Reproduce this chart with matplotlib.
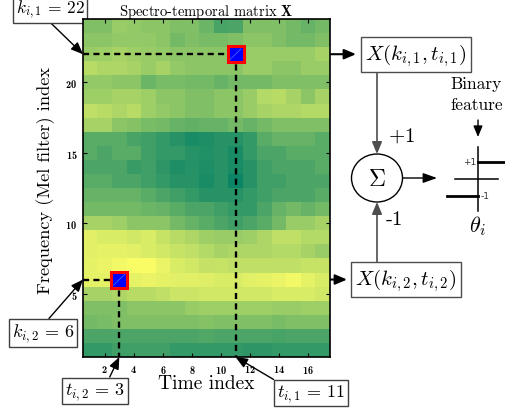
import numpy as np
import matplotlib
matplotlib.use("Agg")
import matplotlib.pyplot as plt
from matplotlib.patches import ConnectionPatch, Ellipse
from matplotlib.transforms import blended_transform_factory

plt.rcParams['mathtext.fontset'] = 'cm'
plt.rcParams['font.family'] = ['cmr10', 'DejaVu Serif']
plt.rcParams['axes.unicode_minus'] = False
plt.rcParams['axes.formatter.use_mathtext'] = True

# ---------------- data ----------------
n_time = 17
n_freq = 24
time_ticks = [2, 4, 6, 8, 10, 12, 14, 16]
freq_ticks = [5, 10, 15, 20]

# rows listed from top (index 24) to bottom (index 1), columns time 1..17
rows_top_to_bottom = [
    [0.50, 0.50, 0.60, 0.58, 0.55, 0.55, 0.50, 0.50, 0.42, 0.28, 0.30, 0.50, 0.50, 0.50, 0.45, 0.40, 0.45],  # 24
    [0.55, 0.55, 0.58, 0.58, 0.58, 0.55, 0.45, 0.50, 0.47, 0.48, 0.50, 0.55, 0.55, 0.50, 0.45, 0.45, 0.50],  # 23
    [0.60, 0.62, 0.65, 0.62, 0.60, 0.58, 0.55, 0.55, 0.55, 0.55, 0.55, 0.60, 0.60, 0.60, 0.60, 0.60, 0.65],  # 22
    [0.72, 0.68, 0.68, 0.65, 0.60, 0.65, 0.58, 0.55, 0.55, 0.55, 0.55, 0.60, 0.60, 0.55, 0.55, 0.60, 0.60],  # 21
    [0.58, 0.58, 0.55, 0.55, 0.42, 0.48, 0.48, 0.45, 0.45, 0.40, 0.45, 0.45, 0.45, 0.50, 0.50, 0.50, 0.50],  # 20
    [0.62, 0.62, 0.65, 0.65, 0.62, 0.55, 0.55, 0.50, 0.50, 0.55, 0.55, 0.60, 0.70, 0.72, 0.65, 0.55, 0.65],  # 19
    [0.75, 0.72, 0.68, 0.72, 0.62, 0.58, 0.55, 0.50, 0.50, 0.55, 0.55, 0.60, 0.65, 0.68, 0.68, 0.70, 0.70],  # 18
    [0.65, 0.65, 0.55, 0.52, 0.48, 0.45, 0.40, 0.38, 0.40, 0.40, 0.45, 0.40, 0.45, 0.50, 0.50, 0.50, 0.50],  # 17
    [0.35, 0.35, 0.35, 0.28, 0.25, 0.20, 0.15, 0.10, 0.12, 0.15, 0.15, 0.20, 0.35, 0.40, 0.40, 0.40, 0.35],  # 16
    [0.35, 0.30, 0.35, 0.35, 0.25, 0.20, 0.20, 0.15, 0.13, 0.15, 0.10, 0.20, 0.30, 0.30, 0.35, 0.35, 0.35],  # 15
    [0.30, 0.30, 0.30, 0.22, 0.25, 0.18, 0.12, 0.15, 0.12, 0.15, 0.10, 0.15, 0.25, 0.30, 0.30, 0.30, 0.35],  # 14
    [0.35, 0.35, 0.30, 0.30, 0.25, 0.20, 0.15, 0.15, 0.10, 0.15, 0.05, 0.15, 0.25, 0.25, 0.30, 0.30, 0.30],  # 13
    [0.40, 0.40, 0.40, 0.40, 0.35, 0.30, 0.25, 0.20, 0.15, 0.15, 0.15, 0.20, 0.25, 0.30, 0.30, 0.30, 0.35],  # 12
    [0.45, 0.45, 0.45, 0.45, 0.42, 0.40, 0.35, 0.30, 0.30, 0.25, 0.20, 0.20, 0.30, 0.40, 0.45, 0.40, 0.45],  # 11
    [0.65, 0.65, 0.62, 0.55, 0.55, 0.55, 0.45, 0.40, 0.35, 0.30, 0.25, 0.30, 0.35, 0.45, 0.60, 0.60, 0.65],  # 10
    [0.88, 0.85, 0.85, 0.82, 0.85, 0.78, 0.72, 0.68, 0.62, 0.60, 0.60, 0.62, 0.68, 0.75, 0.75, 0.70, 0.70],  # 9
    [0.88, 0.90, 0.90, 0.88, 0.85, 0.82, 0.78, 0.75, 0.70, 0.65, 0.68, 0.68, 0.68, 0.70, 0.70, 0.65, 0.60],  # 8
    [0.90, 0.92, 0.95, 0.98, 0.98, 0.92, 0.85, 0.82, 0.77, 0.78, 0.75, 0.75, 0.75, 0.75, 0.75, 0.78, 0.78],  # 7
    [0.90, 0.90, 0.90, 0.90, 0.92, 0.90, 0.88, 0.88, 0.87, 0.85, 0.85, 0.88, 0.90, 0.92, 0.95, 0.90, 0.85],  # 6
    [0.65, 0.65, 0.68, 0.72, 0.72, 0.75, 0.80, 0.80, 0.82, 0.82, 0.82, 0.82, 0.82, 0.85, 0.85, 0.85, 0.82],  # 5
    [0.50, 0.50, 0.50, 0.55, 0.55, 0.55, 0.55, 0.60, 0.62, 0.62, 0.62, 0.62, 0.62, 0.60, 0.60, 0.62, 0.62],  # 4
    [0.45, 0.48, 0.50, 0.50, 0.50, 0.50, 0.50, 0.50, 0.52, 0.50, 0.50, 0.50, 0.50, 0.48, 0.50, 0.50, 0.50],  # 3
    [0.30, 0.30, 0.30, 0.30, 0.30, 0.30, 0.30, 0.30, 0.32, 0.30, 0.30, 0.30, 0.30, 0.28, 0.30, 0.30, 0.30],  # 2
    [0.20, 0.20, 0.25, 0.25, 0.25, 0.25, 0.20, 0.20, 0.20, 0.20, 0.20, 0.18, 0.18, 0.20, 0.20, 0.20, 0.20],  # 1
]
matrix = np.array(rows_top_to_bottom[::-1])  # row 0 -> frequency index 1

# selected points
k1, t1 = 22, 11
k2, t2 = 6, 3

# ---------------- figure ----------------
W, H = 506, 414
fig = plt.figure(figsize=(W / 100, H / 100), dpi=100)
ax = fig.add_axes([83 / W, (H - 358) / H, (330 - 83) / W, (358 - 20) / H])
ax.imshow(matrix, origin='lower', cmap='summer', vmin=0, vmax=1,
          extent=[0.5, n_time + 0.5, 0.5, n_freq + 0.5], aspect='auto',
          interpolation='nearest')
ax.set_xlim(0.5, n_time + 0.5)
ax.set_ylim(0.5, n_freq + 0.5)
ax.set_xticks(time_ticks)
ax.set_yticks(freq_ticks)
ax.tick_params(direction='in', top=True, right=True, length=3, width=0.8,
               labelsize=7.5, pad=4)
for lab in ax.get_xticklabels() + ax.get_yticklabels():
    lab.set_fontfamily('cmb10')
for s in ax.spines.values():
    s.set_linewidth(1.2)
ax.set_title(r'Spectro-temporal matrix $\mathbf{X}$', fontsize=10.5, pad=3)
ax.set_xlabel('Time index', fontsize=14, labelpad=0)
ax.set_ylabel('Frequency (Mel filter) index', fontsize=13.2)
ax.yaxis.set_label_coords(-0.115, 0.525)

dash = (0, (2.6, 1.8))
for (k, t) in [(k1, t1), (k2, t2)]:
    ax.plot([0.5, t], [k, k], color='black', lw=1.7, linestyle=dash, zorder=3)
    ax.plot([t, t], [k, 0.5], color='black', lw=1.7, linestyle=dash, zorder=3)

# overlay in pixel coords (origin top-left)
ov = fig.add_axes([0, 0, 1, 1])
ov.set_xlim(0, W)
ov.set_ylim(H, 0)
ov.axis('off')
ov.set_zorder(5)
ov.patch.set_alpha(0)

mixed = blended_transform_factory(ov.transData, ax.transData)

# solid arrows from markers to boxes
box1_left, box2_left = 356, 347
for (k, t, xl) in [(k1, t1, box1_left), (k2, t2, box2_left)]:
    cp = ConnectionPatch(xyA=(t, k), coordsA=ax.transData, xyB=(xl, k), coordsB=mixed,
                         arrowstyle='-|>,head_length=0.7,head_width=0.3', color='black',
                         lw=1.5, mutation_scale=10, shrinkA=0, shrinkB=0, zorder=4)
    fig.add_artist(cp)

# markers (drawn above lines)
for (k, t) in [(k1, t1), (k2, t2)]:
    ax.plot([t], [k], marker='s', ms=11.5, mfc='#0000ff', mec='#ff0000', mew=2.2,
            zorder=6, clip_on=False)
    ax.plot([t - 0.38, t + 0.38], [k - 0.38, k + 0.38], color='#4a78ff', lw=0.5,
            zorder=7, clip_on=False)
ax.set_zorder(6)

bbox_w = dict(boxstyle='square,pad=0.15', fc='white', ec='0.25', lw=1.0)
arrow_k = dict(arrowstyle='-|>,head_length=0.6,head_width=0.25', color='black', lw=1.0,
               shrinkA=0, shrinkB=0, mutation_scale=12)


def idx_label(text, xy_text, xy_target, relpos, fs=13):
    ap = dict(arrow_k)
    ap['relpos'] = relpos
    ov.annotate(text, xy=xy_target, xycoords=ax.transData, xytext=xy_text,
                textcoords=ov.transData, fontsize=fs, ha='center', va='center',
                bbox=bbox_w, arrowprops=ap, annotation_clip=False, zorder=8)


idx_label(r'$k_{i,1}\,=\,%d$' % k1, (50, 10), (0.5, k1), (0.47, 0.0), fs=12.5)
idx_label(r'$k_{i,2}\,=\,%d$' % k2, (43, 334), (0.5, k2), (0.55, 1.0))
idx_label(r'$t_{i,2}\,=\,%d$' % t2, (95, 392), (t2, 0.5), (0.72, 1.0))
idx_label(r'$t_{i,1}\,=\,%d$' % t1, (311, 394), (t1, 0.5), (0.02, 1.0))

# X boxes
bbox_x = dict(boxstyle='square,pad=0.2', fc='white', ec='0.3', lw=1.0)
ov.text(416, k1, r'$X(k_{i,1},t_{i,1})$', transform=mixed, fontsize=15,
        ha='center', va='center', bbox=bbox_x, zorder=8)
ov.text(406, k2, r'$X(k_{i,2},t_{i,2})$', transform=mixed, fontsize=15,
        ha='center', va='center', bbox=bbox_x, zorder=8)

# summation node
cx, cy = 377, 179
ov.add_patch(Ellipse((cx, cy), 51, 48, fc='white', ec='black', lw=1.0))
ov.text(cx, cy + 1, r'$\Sigma$', fontsize=17, ha='center', va='center')
arr_g = dict(arrowstyle='-|>,head_length=0.6,head_width=0.25', color='0.3', lw=1.2,
             shrinkA=0, shrinkB=0, mutation_scale=12)
ov.annotate('', xy=(cx, cy - 24), xytext=(cx, 72), arrowprops=arr_g)
ov.annotate('', xy=(cx, cy + 24), xytext=(cx, 267), arrowprops=arr_g)
ov.text(388, 136, '$+1$', fontsize=15, ha='left', va='center')
ov.text(386, 220, '-1', fontsize=15, ha='left', va='center')
ov.annotate('', xy=(437, cy), xytext=(cx + 26, cy),
            arrowprops=dict(arrowstyle='-|>,head_length=0.7,head_width=0.25', color='black',
                            lw=1.0, shrinkA=0, shrinkB=0, mutation_scale=12))

# binary feature step
ov.text(450, 84, 'Binary', fontsize=12.5, ha='left', va='center')
ov.text(450, 105, 'feature', fontsize=12.5, ha='left', va='center')
ov.annotate('', xy=(478, 138), xytext=(478, 121),
            arrowprops=dict(arrowstyle='-|>,head_length=0.6,head_width=0.25', color='black',
                            lw=1.0, shrinkA=0, shrinkB=0, mutation_scale=11))
ov.plot([478, 478], [148, 212], color='black', lw=1.1)
ov.plot([455, 498], [180, 180], color='black', lw=1.1)
ov.plot([478, 510], [163, 163], color='black', lw=2.0, clip_on=False)
ov.plot([447, 478], [197, 197], color='black', lw=2.0)
ov.text(476, 163, '+1', fontsize=6.5, ha='right', va='center', family='DejaVu Sans', color='0.2')
ov.text(481, 197, '-1', fontsize=6.5, ha='left', va='center', family='DejaVu Sans', color='0.2')
ov.text(478, 226, r'$\theta_i$', fontsize=16, ha='center', va='center')

fig.savefig('out.png', dpi=100)
